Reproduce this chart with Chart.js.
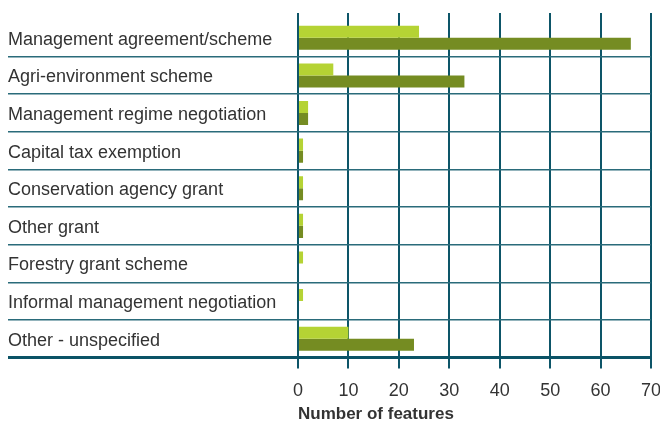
<!DOCTYPE html>
<html>
<head>
<meta charset="utf-8">
<script src="https://cdn.jsdelivr.net/npm/chart.js@4/dist/chart.umd.min.js"></script>
<style>
html,body{margin:0;padding:0;background:#fff;}
#wrap{width:660px;height:423px;position:relative;}
</style>
</head>
<body>
<div id="wrap"><canvas id="c" width="660" height="423"></canvas></div>
<script>
const categories = [
  'Management agreement/scheme',
  'Agri-environment scheme',
  'Management regime negotiation',
  'Capital tax exemption',
  'Conservation agency grant',
  'Other grant',
  'Forestry grant scheme',
  'Informal management negotiation',
  'Other - unspecified'
];
const lightSeries = [24, 7, 2, 1, 1, 1, 1, 1, 10];
const darkSeries  = [66, 33, 2, 1, 1, 1, 0, 0, 23];
const xTickStep = 10;
const xMin = 0;
const xMax = 70;
const xTitle = 'Number of features';

const GRID = '#0d5568';
const HGRID = '#2a6b7a';
const TEXT = '#333333';
const FONT = "'Liberation Sans', Arial, Helvetica, sans-serif";

new Chart(document.getElementById('c'), {
  type: 'bar',
  data: {
    labels: categories,
    datasets: [
      { label: 'Series 1', data: lightSeries, backgroundColor: '#b5d334', borderWidth: 0 },
      { label: 'Series 2', data: darkSeries, backgroundColor: '#758c22', borderWidth: 0 }
    ]
  },
  options: {
    indexAxis: 'y',
    responsive: false,
    animation: false,
    devicePixelRatio: 1,
    categoryPercentage: 0.64,
    barPercentage: 1,
    layout: { padding: { left: 8, right: 9, top: 13, bottom: 0 } },
    plugins: { legend: { display: false }, tooltip: { enabled: false } },
    scales: {
      x: {
        type: 'linear',
        position: 'bottom',
        min: xMin, max: xMax,
        ticks: { stepSize: xTickStep, color: TEXT, font: { family: FONT, size: 18 }, padding: 12 },
        grid: { color: GRID, lineWidth: 2, tickLength: 11 },
        border: { display: false },
        title: { display: true, text: xTitle, align: 'start', color: TEXT,
                 font: { family: FONT, size: 17, weight: 'bold' }, padding: { top: 0, bottom: -2 } },
        afterFit: (scale) => { scale.height = 65.5; scale.paddingRight = 0; scale.paddingLeft = 0; }
      },
      x2: {
        type: 'linear',
        axis: 'x',
        position: 'top',
        min: xMin, max: xMax,
        ticks: { stepSize: xTickStep, display: false },
        grid: { color: GRID, lineWidth: 2, tickLength: 6, drawOnChartArea: false },
        border: { display: false },
        afterFit: (scale) => { scale.paddingRight = 0; scale.paddingLeft = 0; }
      },
      y: {
        type: 'category',
        position: 'left',
        ticks: { color: TEXT, font: { family: FONT, size: 18 }, crossAlign: 'far', padding: 0, labelOffset: 2 },
        grid: {
          offset: true,
          tickLength: 290,
          color: (ctx) => ctx.index === 0 ? 'rgba(0,0,0,0)' : (ctx.index === undefined ? '#0b5366' : HGRID),
          lineWidth: (ctx) => ctx.index === undefined ? 3 : 1.5
        },
        border: { display: false },
        afterFit: (scale) => { scale.width = 290; }
      }
    }
  }
});
</script>
</body>
</html>
